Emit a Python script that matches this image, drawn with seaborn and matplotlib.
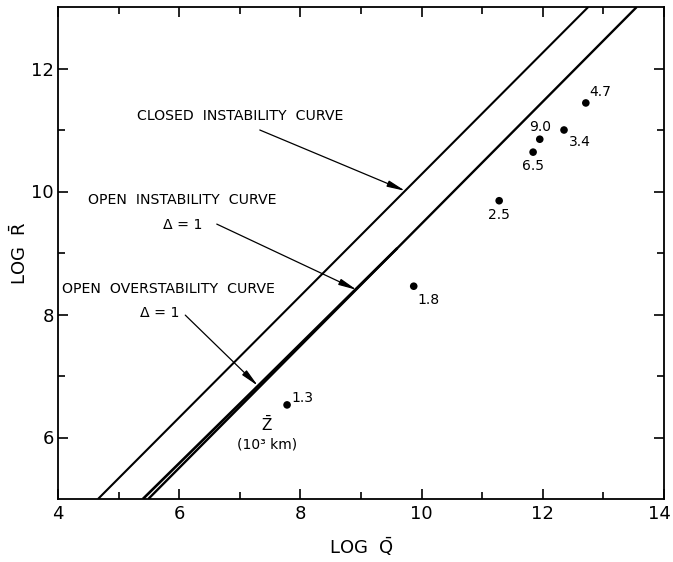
import matplotlib
matplotlib.use("Agg")
import matplotlib.pyplot as plt
import matplotlib.transforms as mtransforms
import seaborn as sns
import pandas as pd

# Stability boundaries in the (log Q, log R) plane
closed_q = [4.66, 12.75]
closed_r = [5.0, 13.0]
open_inst_q = [5.49, 13.55]
open_inst_r = [5.0, 13.0]
open_over_q = [5.40, 7.30, 9.60]
open_over_r = [5.0, 6.84, 9.08]

# Observed points, labelled by height z (10^3 km)
obs_q = [7.78, 9.87, 11.28, 11.84, 11.95, 12.35, 12.71]
obs_r = [6.53, 8.46, 9.85, 10.64, 10.85, 11.00, 11.44]
obs_z = ["1.3", "1.8", "2.5", "6.5", "9.0", "3.4", "4.7"]
obs_label_xy = [(8.03, 6.64), (10.11, 8.24), (11.28, 9.62), (11.84, 10.42),
                (11.95, 11.05), (12.61, 10.80), (12.94, 11.62)]

x_ticks = [4, 6, 8, 10, 12, 14]
y_ticks = [6, 8, 10, 12]

sns.set_theme(style="ticks")
plt.rcParams["font.family"] = ["DejaVu Sans"]
plt.rcParams["mathtext.fontset"] = "dejavusans"
plt.rcParams["text.color"] = "black"
plt.rcParams["axes.labelcolor"] = "black"
plt.rcParams["xtick.color"] = "black"
plt.rcParams["ytick.color"] = "black"

fig = plt.figure(figsize=(6.73, 5.62), dpi=100)
ax = fig.add_axes([58 / 673, 1 - 499 / 562, 606 / 673, 492 / 562])

curves = pd.concat([
    pd.DataFrame({"q": closed_q, "r": closed_r, "curve": "closed"}),
    pd.DataFrame({"q": open_inst_q, "r": open_inst_r, "curve": "open_inst"}),
    pd.DataFrame({"q": open_over_q, "r": open_over_r, "curve": "open_over"}),
])
widths = {"closed": 1.5, "open_inst": 1.7, "open_over": 1.9}
for name, grp in curves.groupby("curve", sort=False):
    sns.lineplot(data=grp, x="q", y="r", ax=ax, color="black",
                 lw=widths[name], sort=False, estimator=None,
                 solid_capstyle="butt")

pts = pd.DataFrame({"q": obs_q, "r": obs_r})
sns.scatterplot(data=pts, x="q", y="r", ax=ax, color="black", s=30,
                edgecolor="none", zorder=5)
for lab, (tx, ty) in zip(obs_z, obs_label_xy):
    ax.text(tx, ty, lab, fontsize=10, ha="center", va="center")

ax.text(7.45, 6.22, r"$\bar{\mathsf{Z}}$", fontsize=11, ha="center", va="center")
ax.text(7.45, 5.88, "(10³ km)", fontsize=10, ha="center", va="center")

ann = dict(fontsize=10.2, ha="left", va="center")
arrow = dict(arrowstyle="-|>,head_length=0.9,head_width=0.16",
             color="black", lw=0.9, shrinkA=0, shrinkB=0)
ax.text(5.30, 11.23, "CLOSED  INSTABILITY  CURVE", **ann)
ax.annotate("", xy=(9.73, 10.01), xytext=(7.33, 11.0), arrowprops=arrow)

ax.text(4.50, 9.86, "OPEN  INSTABILITY  CURVE", **ann)
ax.text(5.73, 9.46, "Δ = 1", **ann)
ax.annotate("", xy=(8.93, 8.40), xytext=(6.62, 9.47), arrowprops=arrow)

ax.text(4.07, 8.41, "OPEN  OVERSTABILITY  CURVE", **ann)
ax.text(5.35, 8.02, "Δ = 1", **ann)
ax.annotate("", xy=(7.30, 6.84), xytext=(6.10, 7.99), arrowprops=arrow)

ax.set_xlim(4, 14)
ax.set_ylim(5, 13)
ax.set_xticks(x_ticks)
ax.set_yticks(y_ticks)
ax.set_xticks(range(5, 14, 2), minor=True)
ax.set_yticks(range(7, 13, 2), minor=True)
ax.tick_params(which="both", direction="in", top=True, right=True,
               width=1.2, color="black")
ax.tick_params(which="major", length=7, labelsize=13, pad=4)
ax.tick_params(which="minor", length=5)
ax.tick_params(axis="y", which="major", pad=3)
for sp in ax.spines.values():
    sp.set_linewidth(1.3)
    sp.set_color("black")

# keep the last x tick label inside the figure edge
last = ax.get_xticklabels()[-1]
last.set_transform(last.get_transform() +
                   mtransforms.ScaledTranslation(-5 / 100, 0, fig.dpi_scale_trans))

ax.set_xlabel(r"LOG  $\bar{\mathsf{Q}}$", fontsize=13, labelpad=9)
ax.set_ylabel(r"LOG  $\bar{\mathsf{R}}$", fontsize=13, labelpad=1)

fig.savefig("out.png", dpi=100)
